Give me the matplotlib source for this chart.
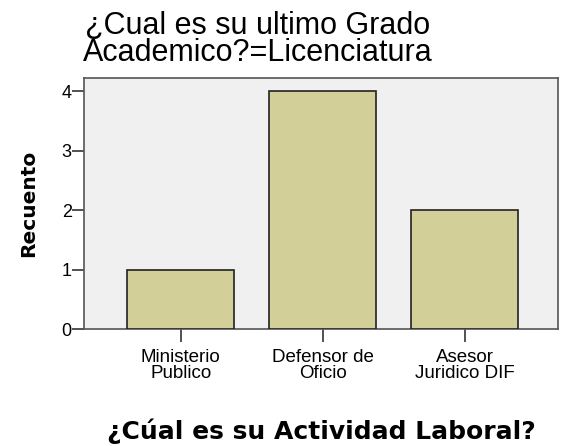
import matplotlib
matplotlib.use('Agg')
from matplotlib import pyplot as plt

# Datos del grafico
actividad = ['Ministerio\nPublico', 'Defensor de\nOficio', 'Asesor\nJuridico DIF']
recuento = [1, 4, 2]
y_ticks = [0, 1, 2, 3, 4]

plt.rcParams['font.family'] = ['Liberation Sans', 'DejaVu Sans']

fig = plt.figure(figsize=(5.61, 4.46), dpi=100)
ax = fig.add_axes([0.150, 0.262, 0.845, 0.563])
ax.set_facecolor('#F0F0F0')

pos = list(range(len(actividad)))
ax.bar(pos, recuento, width=0.755, color='#D3CF98', edgecolor='#222222', linewidth=1.2, zorder=3)

ax.set_xlim(-0.68, 2.66)
ax.set_ylim(0, 4.22)
ax.set_yticks(y_ticks)
ax.set_xticks(pos)
ax.set_xticklabels(actividad, fontsize=13.5, linespacing=0.95)
ax.tick_params(axis='y', length=9, width=1.2, color='#333333', labelsize=13, pad=0)
ax.tick_params(axis='x', length=9.5, width=1.2, color='#333333', pad=4.5)

for s in ax.spines.values():
    s.set_color('#555555')
    s.set_linewidth(1.2)

ax.set_ylabel('Recuento', fontsize=14.5, fontweight='bold', family='DejaVu Sans', labelpad=17)
ax.set_xlabel('¿Cúal es su Actividad Laboral?', fontsize=18, fontweight='bold',
              family='DejaVu Sans', labelpad=26)

fig.text(0.46, 0.975, '¿Cual es su ultimo Grado\nAcademico?=Licenciatura', ha='center', va='top',
         fontsize=22, linespacing=0.85)

fig.savefig('out.png', dpi=100)
